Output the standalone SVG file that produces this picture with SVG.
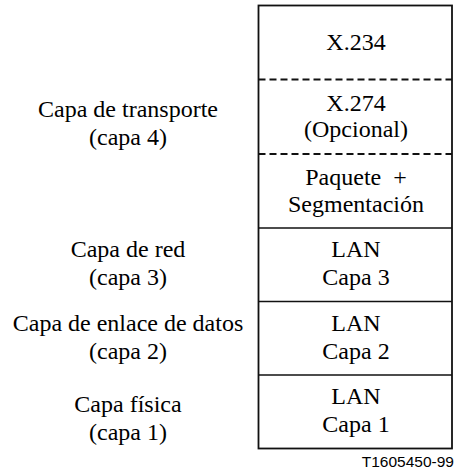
<svg xmlns="http://www.w3.org/2000/svg" width="455" height="470" viewBox="0 0 455 470">
<style>
.t{font-family:"Liberation Serif","Times New Roman",serif;font-size:24px;fill:#000;text-anchor:middle}
.s{font-family:"Liberation Sans",Arial,sans-serif;font-size:15.5px;fill:#000;text-anchor:end}
.b{fill:none;stroke:#111;stroke-width:1.8}
.d{stroke:#111;stroke-width:1.8;stroke-dasharray:7,4}
.l{stroke:#111;stroke-width:1.6}
</style>
<rect width="455" height="470" fill="#fff"/>
<g id="stack-frame">
<rect class="b" x="258.5" y="5.5" width="193.5" height="443"/>
</g>
<g id="dividers">
<line class="d" x1="258.5" y1="79.5" x2="452" y2="79.5"/>
<line class="d" x1="258.5" y1="154" x2="452" y2="154"/>
<line class="l" x1="258.5" y1="228" x2="452" y2="228"/>
<line class="l" x1="258.5" y1="301.5" x2="452" y2="301.5"/>
<line class="l" x1="258.5" y1="375" x2="452" y2="375"/>
</g>
<g id="x234"><text class="t" x="356" y="50">X.234</text></g>
<g id="x274"><text class="t" x="356" y="111">X.274</text><text class="t" x="356" y="137">(Opcional)</text></g>
<g id="paquete"><text class="t" x="356" y="185">Paquete&#160; +</text><text class="t" x="356" y="211.5">Segmentación</text></g>
<g id="lan3"><text class="t" x="356" y="257">LAN</text><text class="t" x="356" y="285">Capa 3</text></g>
<g id="lan2"><text class="t" x="356" y="330.5">LAN</text><text class="t" x="356" y="358.5">Capa 2</text></g>
<g id="lan1"><text class="t" x="356" y="404">LAN</text><text class="t" x="356" y="432">Capa 1</text></g>
<g id="label-transporte"><text class="t" x="128" y="117">Capa de transporte</text><text class="t" x="128" y="144.5">(capa 4)</text></g>
<g id="label-red"><text class="t" x="128" y="257">Capa de red</text><text class="t" x="128" y="285">(capa 3)</text></g>
<g id="label-enlace"><text class="t" x="128" y="330.5">Capa de enlace de datos</text><text class="t" x="128" y="358.5">(capa 2)</text></g>
<g id="label-fisica"><text class="t" x="128" y="411.5">Capa física</text><text class="t" x="128" y="439.5">(capa 1)</text></g>
<g id="figure-id"><text class="s" x="454" y="467">T1605450-99</text></g>
</svg>
